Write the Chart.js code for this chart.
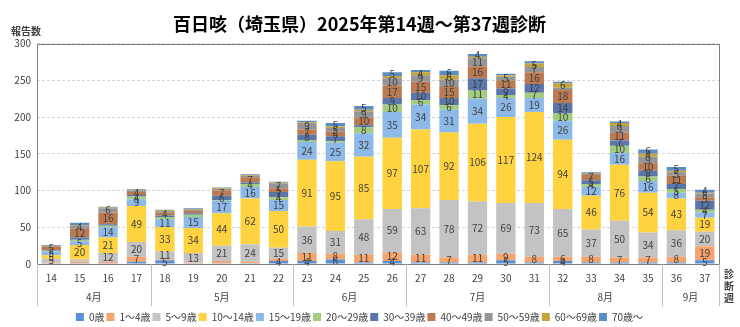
<!DOCTYPE html>
<html lang="ja">
<head>
<meta charset="UTF-8">
<title>百日咳（埼玉県）</title>
<script src="https://cdn.jsdelivr.net/npm/chart.js"></script>
<style>
    body { margin: 0; background: #fff; }
    .wrap { width: 740px; height: 327px; }
</style>
</head>
<body>
<div class="wrap"><canvas id="pertussisChart" width="740" height="327"></canvas></div>
<script>
    const weeks = ['14','15','16','17','18','19','20','21','22','23','24','25','26','27','28','29','30','31','32','33','34','35','36','37'];
    const months = [
        { label: '4月', from: 0, to: 3 },
        { label: '5月', from: 4, to: 8 },
        { label: '6月', from: 9, to: 12 },
        { label: '7月', from: 13, to: 17 },
        { label: '8月', from: 18, to: 21 },
        { label: '9月', from: 22, to: 23 }
    ];
    const yTicks = [0, 50, 100, 150, 200, 250, 300];

    const ageGroups = ['0歳','1～4歳','5～9歳','10～14歳','15～19歳','20～29歳','30～39歳','40～49歳','50～59歳','60～69歳','70歳～'];
    const age0     = [1,1,1,3,5,1,1,1,4,4,6,2,4,2,2,2,5,2,4,2,2,2,2,5];
    const age1to4  = [1,2,2,7,1,1,3,2,3,11,8,11,12,11,7,11,9,8,6,8,7,7,8,19];
    const age5to9  = [5,3,12,20,11,13,21,24,15,36,31,48,59,63,78,72,69,73,65,37,50,34,36,20];
    const age10s   = [5,20,21,49,33,34,44,62,50,91,95,85,97,107,92,106,117,124,94,46,76,54,43,19];
    const age15s   = [5,5,14,9,11,15,17,16,15,24,25,32,35,34,31,34,26,19,26,12,16,16,8,7];
    const age20s   = [1,2,2,4,3,3,1,4,4,2,2,8,10,6,6,11,4,7,10,4,10,6,5,4];
    const age30s   = [1,3,2,2,2,2,6,2,7,8,7,3,9,10,10,17,9,12,14,5,7,8,7,12];
    const age40s   = [5,12,16,4,4,3,7,7,5,7,6,10,17,15,15,16,11,16,18,7,11,10,11,5];
    const age50s   = [1,4,6,2,2,2,2,2,7,9,5,9,10,9,10,11,5,7,3,2,9,9,5,5];
    const age60s   = [0,1,1,1,1,1,1,1,1,1,2,2,3,4,6,2,2,5,6,1,4,4,2,1];
    const age70up  = [1,3,1,1,1,1,1,1,1,2,5,5,5,3,6,4,2,3,2,1,2,6,5,4];

    const seriesValues = [age0, age1to4, age5to9, age10s, age15s, age20s, age30s, age40s, age50s, age60s, age70up];
    const colors = ['#5a8ed6','#f4a46c','#c3c3c3','#ffd23f','#8cb9e8','#a2cd7f','#5b76aa','#bb7a52','#959595','#c4a43c','#5b8cc4'];

    const jpFont = "'Noto Sans CJK JP', 'Noto Sans', sans-serif";
    const xAxisHeight = 46;

    // segment numbers, month groups, frame and the two axis captions
    const decorations = {
        id: 'decorations',
        afterDatasetsDraw(chart) {
            const c = chart.ctx;
            const area = chart.chartArea;
            const x = chart.scales.x;

            c.save();
            c.font = '10px ' + jpFont;
            c.fillStyle = '#404040';
            c.textAlign = 'center';
            c.textBaseline = 'middle';
            chart.data.datasets.forEach((ds, i) => {
                chart.getDatasetMeta(i).data.forEach((bar, j) => {
                    if (ds.data[j] < 4) return;
                    c.fillText(String(ds.data[j]), bar.x, (bar.y + bar.base) / 2);
                });
            });

            // frame
            c.strokeStyle = '#808080';
            c.lineWidth = 1;
            c.strokeRect(Math.round(area.left) + 0.5, Math.round(area.top) + 0.5,
                Math.round(area.right - area.left), Math.round(area.bottom - area.top));

            // month separators and labels
            const half = (x.getPixelForValue(1) - x.getPixelForValue(0)) / 2;
            c.strokeStyle = '#bfbfbf';
            c.font = '10px ' + jpFont;
            c.fillStyle = '#404040';
            const bottom = area.bottom + 42;
            months.forEach(m => {
                const left = x.getPixelForValue(m.from) - half;
                const right = x.getPixelForValue(m.to) + half;
                [left, right].forEach(px => {
                    c.beginPath();
                    c.moveTo(Math.round(px) + 0.5, area.bottom);
                    c.lineTo(Math.round(px) + 0.5, bottom);
                    c.stroke();
                });
                c.fillText(m.label, (left + right) / 2, area.bottom + 33);
            });

            c.fillStyle = '#404040';
            c.font = 'bold 10px ' + jpFont;
            c.textAlign = 'left';
            c.fillText('報告数', 11, area.top - 12);

            const vx = area.right + 10;
            ['診', '断', '週'].forEach((ch, k) => {
                c.fillText(ch, vx - 5, area.bottom + 10 + k * 12);
            });
            c.restore();
        }
    };

    new Chart(document.getElementById('pertussisChart'), {
        type: 'bar',
        data: {
            labels: weeks,
            datasets: ageGroups.map((name, i) => ({
                label: name,
                data: seriesValues[i],
                backgroundColor: colors[i],
                borderWidth: 0,
                barPercentage: 0.68,
                categoryPercentage: 1.0
            }))
        },
        options: {
            responsive: false,
            animation: false,
            layout: { padding: { left: 0, right: 21, top: 0, bottom: -5 } },
            scales: {
                x: {
                    stacked: true,
                    grid: { display: false },
                    border: { display: false },
                    ticks: { color: '#404040', font: { size: 10, family: jpFont }, padding: 0, maxRotation: 0 },
                    afterFit(scale) { scale.height = xAxisHeight; }
                },
                y: {
                    stacked: true,
                    min: 0,
                    max: 300,
                    afterBuildTicks(scale) { scale.ticks = yTicks.map(v => ({ value: v })); },
                    grid: { color: '#d4d4d4', drawTicks: false },
                    border: { display: false, dash: [3, 2] },
                    ticks: { color: '#404040', font: { size: 10, family: jpFont }, padding: 6 },
                    afterFit(scale) { scale.width = 37; }
                }
            },
            plugins: {
                title: {
                    display: true,
                    text: '百日咳（埼玉県）2025年第14週～第37週診断',
                    color: '#000',
                    font: { size: 18, weight: 'bold', family: jpFont },
                    padding: { top: 13, bottom: 9 }
                },
                legend: {
                    position: 'bottom',
                    labels: {
                        boxWidth: 8,
                        boxHeight: 8,
                        padding: 2,
                        color: '#404040',
                        font: { size: 10, family: jpFont }
                    }
                },
                tooltip: { enabled: false }
            }
        },
        plugins: [decorations]
    });
</script>
</body>
</html>
